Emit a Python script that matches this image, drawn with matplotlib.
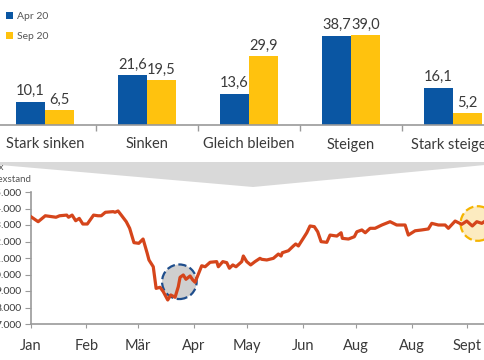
import matplotlib
matplotlib.use("Agg")
import matplotlib.pyplot as plt
import numpy as np
from matplotlib.patches import Polygon

plt.rcParams['font.family'] = ['Lato', 'DejaVu Sans']

# Umfrage: Erwartung DAX
kategorien = ["Stark sinken", "Sinken", "Gleich bleiben", "Steigen", "Stark steigen"]
apr_20 = [10.1, 21.6, 13.6, 38.7, 16.1]
sep_20 = [6.5, 19.5, 29.9, 39.0, 5.2]
serien = ["Apr 20", "Sep 20"]

# DAX-Verlauf 2020 (Tage seit 1. Jan, Indexstand)
tage = [0, 4, 8, 14, 16, 20, 21, 23, 25, 27, 29, 31.5, 35, 37.5, 39.3, 41.6, 46, 47,
        48.7, 50.5, 53.3, 55.2, 57.6, 60.3, 62.7, 65, 66, 68.4, 70, 72.2, 74, 76.5,
        78.2, 80.6, 82.4, 83.4, 85.2, 86.7, 89, 90.5, 91.8, 95.5, 97.4, 100.2, 103.9,
        104.8, 107.3, 109.5, 111, 112.9, 114.7, 117.9, 118.8, 120.7, 122.9, 125.3,
        128.1, 129.1, 131.9, 135.6, 138.4, 139.9, 140.6, 144, 146.8, 148.1, 149.6,
        152.9, 154.3, 156.1, 158.5, 160.4, 162.3, 165.5, 167.3, 171.1, 173.5, 174.2,
        177.6, 180.9, 182.3, 185.1, 187, 189.7, 192.5, 196.3, 200.9, 204.6, 209.3,
        211.1, 214.9, 218.6, 222.3, 224.2, 227.9, 231.7, 233.5, 237.3, 241, 243.8,
        246.9, 249.4, 252.2, 254.1]
dax = [13500, 13200, 13560, 13470, 13560, 13600, 13470, 13600, 13260, 13400, 13060,
       13060, 13600, 13560, 13560, 13770, 13810, 13770, 13850, 13600, 13200, 12800,
       11930, 11890, 12150, 11290, 10880, 10470, 9160, 9225, 8960, 8455, 8760, 8620,
       9260, 9830, 9970, 9710, 9910, 9670, 9530, 10530, 10470, 10740, 10780, 10470,
       10780, 10720, 10380, 10580, 10470, 10780, 11120, 10780, 10580, 10780, 10980,
       10920, 10880, 10980, 11240, 11120, 11320, 11440, 11730, 11850, 11730, 12290,
       12530, 12940, 12900, 12590, 11990, 11950, 12390, 12330, 12530, 12190, 12150,
       12290, 12590, 12700, 12530, 12800, 12800, 13000, 13200, 13000, 13000, 12390,
       12650, 12700, 12760, 13100, 13000, 13000, 12800, 13240, 13040, 13240, 12940,
       13200, 13100, 13240]
monat_tage = [0, 31, 60, 91, 121, 152, 182, 213, 244]
monat_labels = ["Jan", "Feb", "Mär", "Apr", "May", "Jun", "Aug", "Aug", "Sept"]
y_ticks = [7000, 8000, 9000, 10000, 11000, 12000, 13000, 14000, 15000]
kreis_tage = [83, 250]
kreis_werte = [9560, 13090]

blau = "#0A56A3"
gelb = "#FFC20E"
rot = "#D5451B"
grau = "#9a9a9a"
text = "#3a3a3a"

W, H = 485, 360
fig = plt.figure(figsize=(W / 100, H / 100), dpi=100)

# gray funnel between the two charts
trichter = Polygon([(0, 1 - 162 / H), (1, 1 - 162 / H), (1, 1 - 165 / H),
                    (253 / W, 1 - 187 / H), (0, 1 - 165 / H)],
                   closed=True, transform=fig.transFigure, facecolor="#d9d9d9",
                   edgecolor="none")
fig.patches.append(trichter)

# --- bar chart ---
ax1 = fig.add_axes([0, 1 - 125 / H, 1, 125 / H])
x = np.arange(len(kategorien))
bw = 0.284
b1 = ax1.bar(x - bw / 2, apr_20, bw, color=blau, label=serien[0])
b2 = ax1.bar(x + bw / 2, sep_20, bw, color=gelb, label=serien[1])
for bars, vals in [(b1, apr_20), (b2, sep_20)]:
    for r, v in zip(bars, vals):
        ax1.annotate(f"{v:.1f}".replace(".", ","), (r.get_x() + r.get_width() / 2, v),
                     xytext=(0, 2.5), textcoords="offset points", ha="center",
                     va="bottom", fontsize=10.5, color=text)
ax1.set_xlim(-45 / 102, (W - 45) / 102)
ax1.set_ylim(0, 125 / 2.31)
for s in ["top", "right", "left"]:
    ax1.spines[s].set_visible(False)
ax1.spines["bottom"].set_color(grau)
ax1.spines["bottom"].set_linewidth(1.2)
ax1.set_yticks([])
ax1.set_xticks(x)
ax1.set_xticklabels(kategorien, fontsize=10.5, color=text)
ax1.tick_params(axis="x", length=0, pad=9)
ax1.set_xticks(x[:-1] + 0.5, minor=True)
ax1.tick_params(axis="x", which="minor", length=4, color=grau, width=1)
ax1.set_facecolor("none")
ax1.legend(loc="upper left", bbox_to_anchor=(6 / W, 1 - 12 / H),
           bbox_transform=fig.transFigure, frameon=False, fontsize=7.5,
           handlelength=0.7, handleheight=0.7, handletextpad=0.35,
           labelspacing=1.0, borderpad=0, borderaxespad=0, labelcolor="#555555")

# --- line chart ---
ax2 = fig.add_axes([31 / W, 1 - 324 / H, 1 - 31 / W, 132 / H])
ax2.scatter(kreis_tage[:1], kreis_werte[:1], s=620, facecolor="#cfcfcf",
            edgecolor="#1F4E8C", linewidths=1.6, linestyle="--", zorder=2, clip_on=False)
ax2.scatter(kreis_tage[1:], kreis_werte[1:], s=620, facecolor="#FCEBC0",
            edgecolor="#F5B400", linewidths=1.6, linestyle="--", zorder=2, clip_on=False)
ax2.plot(tage, dax, color=rot, lw=2.3, zorder=3, solid_joinstyle="round")
ax2.set_xlim(0, 254)
ax2.set_ylim(7000, 15000)
ax2.set_yticks(y_ticks)
ax2.set_yticklabels([f"{v:,}".replace(",", ".") for v in y_ticks], fontsize=7.5,
                    color=text)
ax2.set_xticks(monat_tage)
ax2.set_xticklabels(monat_labels, fontsize=10.5, color=text)
ax2.tick_params(axis="y", length=4, color=grau, pad=3)
ax2.tick_params(axis="x", length=3, color=grau, pad=8)
for s in ["top", "right"]:
    ax2.spines[s].set_visible(False)
for s in ["left", "bottom"]:
    ax2.spines[s].set_color(grau)
    ax2.spines[s].set_linewidth(1.2)
ax2.set_facecolor("none")

fig.text(4 / W, 1 - 168 / H, "Index", ha="right", va="center", fontsize=7, color="#555555")
fig.text(31 / W, 1 - 179 / H, "Indexstand", ha="right", va="center", fontsize=7,
         color="#555555")

fig.savefig("out.png", dpi=100)
